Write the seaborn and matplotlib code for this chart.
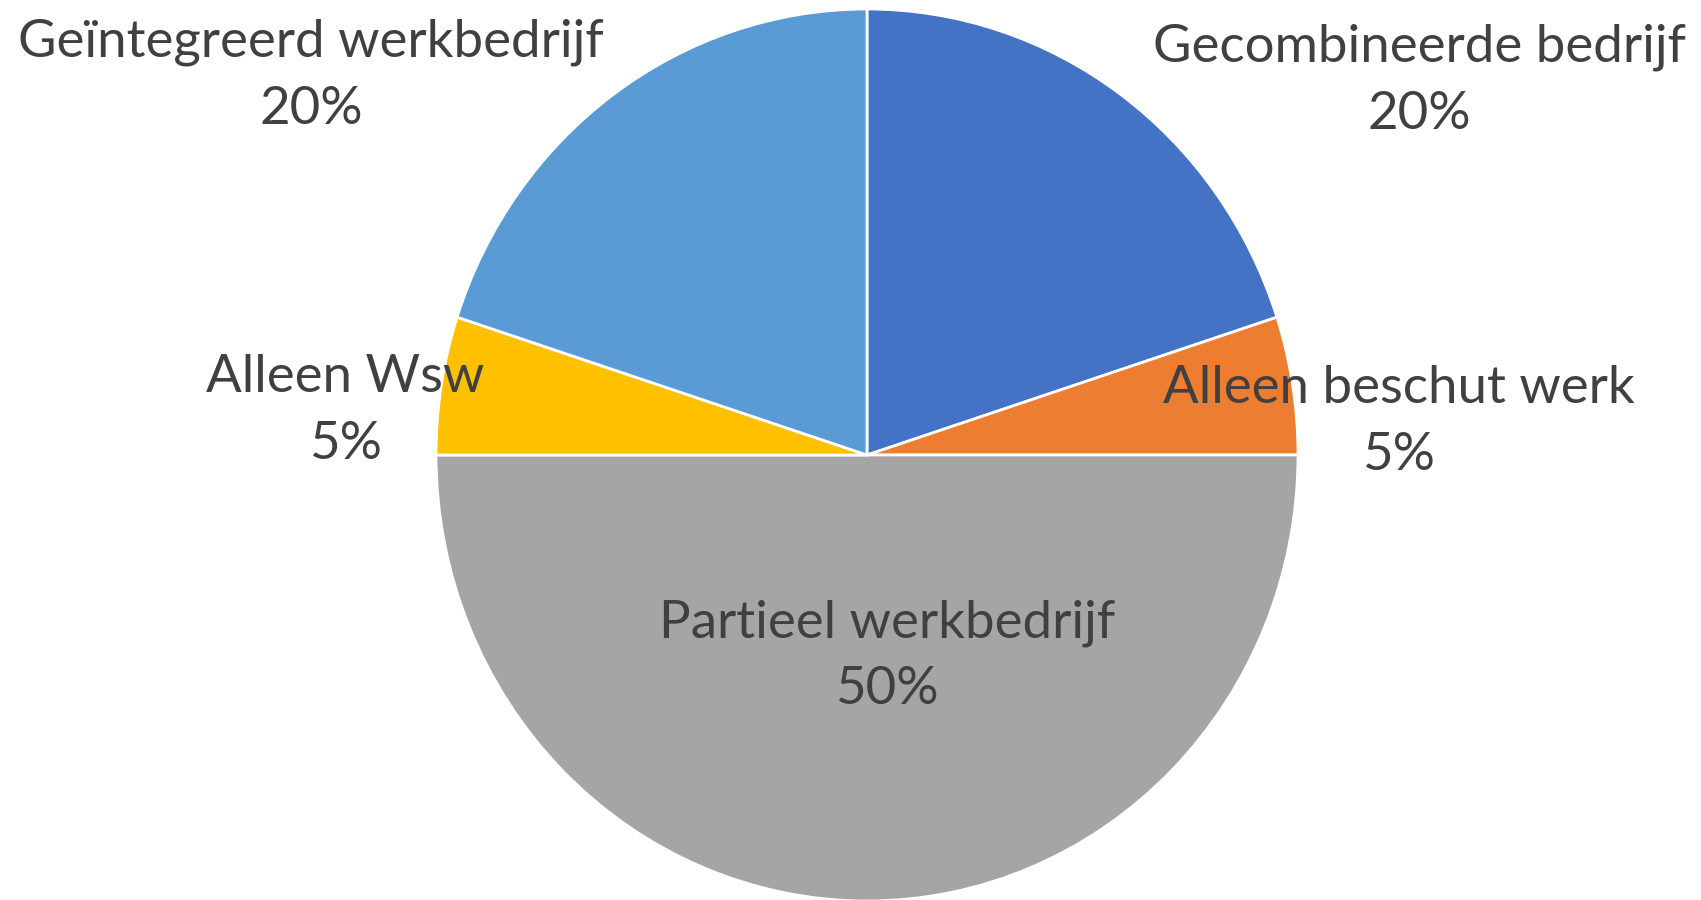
from matplotlib import pyplot as plt
import seaborn as sns

categories = ['Gecombineerde bedrijf', 'Alleen beschut werk', 'Partieel werkbedrijf',
              'Alleen Wsw', 'Geïntegreerd werkbedrijf']
shares = [20, 5, 50, 5, 20]
colors = ['#4472C4', '#ED7D31', '#A5A5A5', '#FFC000', '#5B9BD5']

# label centres in pie-radius units (x, y)
label_pos = [(1.281, 0.839), (1.234, 0.074), (0.046, -0.451),
             (-1.211, 0.099), (-1.290, 0.850)]

sns.set_style('white')
plt.rcParams['font.family'] = ['Lato', 'DejaVu Sans']

fig = plt.figure(figsize=(17.01, 9), dpi=100)
ax = fig.add_axes([0, 0, 1, 1])

ax.pie(shares, colors=colors, startangle=90, counterclock=False,
       wedgeprops=dict(edgecolor='white', linewidth=2))

for cat, val, (x, y) in zip(categories, shares, label_pos):
    ax.text(x, y, f'{cat}\n{val}%', ha='center', va='center', fontsize=38,
            color='#404040', linespacing=1.52)

# pie is slightly taller than wide in the reference
ax.set_aspect('auto')
ax.set_xlim(-867 / 431, (1701 - 867) / 431)
ax.set_ylim(-(900 - 455) / 446, 455 / 446)
ax.axis('off')

fig.savefig('out.png', dpi=100)
